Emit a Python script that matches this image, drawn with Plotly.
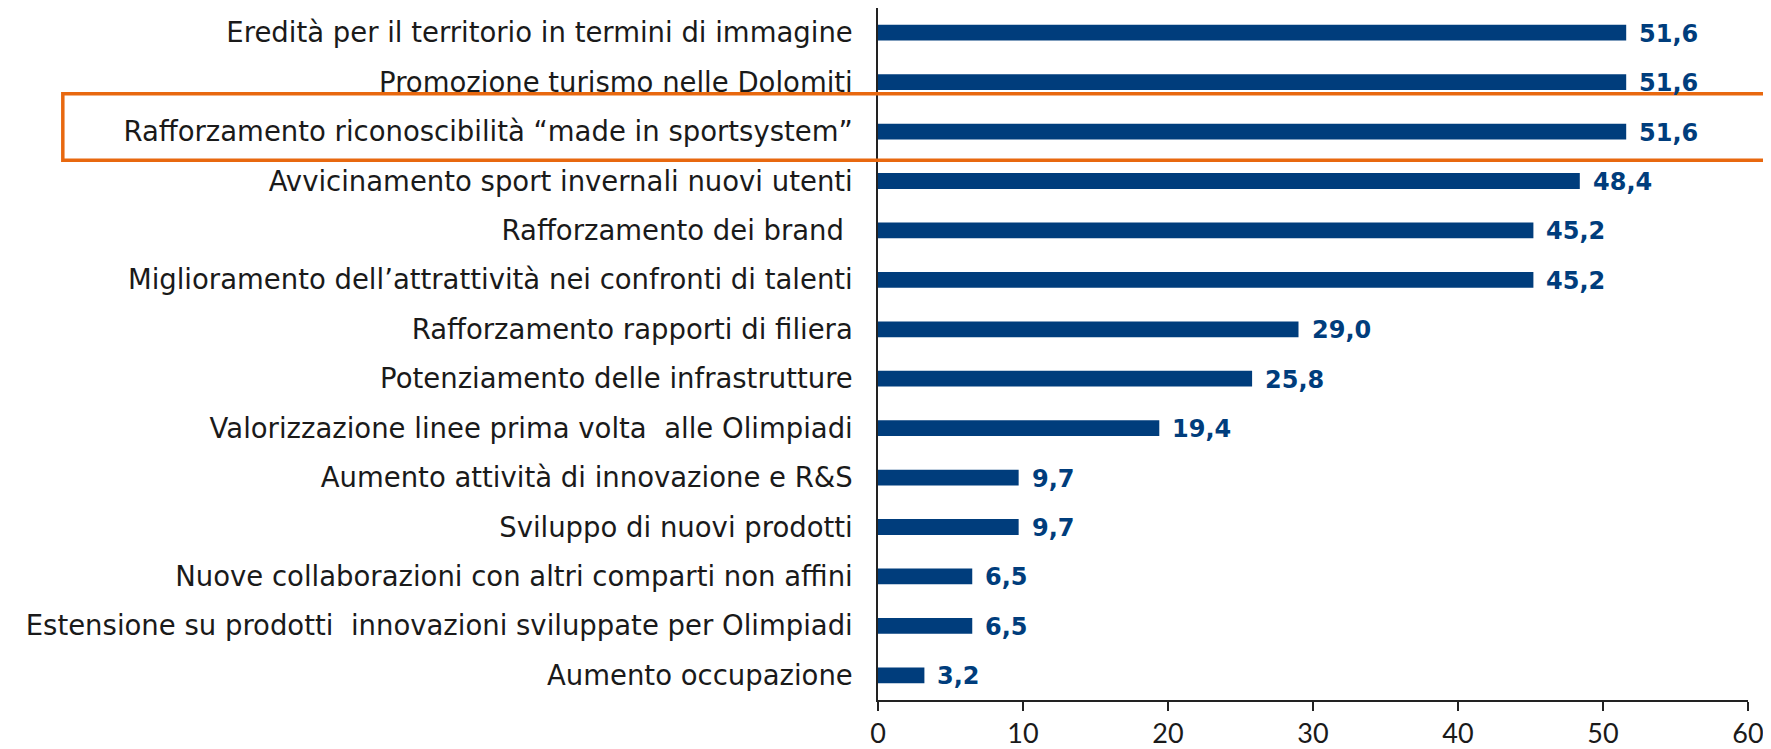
import plotly.graph_objects as go

categories = [
    "Eredità per il territorio in termini di immagine",
    "Promozione turismo nelle Dolomiti",
    "Rafforzamento riconoscibilità “made in sportsystem”",
    "Avvicinamento sport invernali nuovi utenti",
    "Rafforzamento dei brand ",
    "Miglioramento dell’attrattività nei confronti di talenti",
    "Rafforzamento rapporti di filiera",
    "Potenziamento delle infrastrutture",
    "Valorizzazione linee prima volta  alle Olimpiadi",
    "Aumento attività di innovazione e R&S",
    "Sviluppo di nuovi prodotti",
    "Nuove collaborazioni con altri comparti non affini",
    "Estensione su prodotti  innovazioni sviluppate per Olimpiadi",
    "Aumento occupazione",
]
values = [51.6, 51.6, 51.6, 48.4, 45.2, 45.2, 29.0, 25.8, 19.4, 9.7, 9.7, 6.5, 6.5, 3.2]
x_ticks = [0, 10, 20, 30, 40, 50, 60]
highlight = "Rafforzamento riconoscibilità “made in sportsystem”"

BLUE = "#003D7C"
LABEL_FONT = "DejaVu Sans"

fig = go.Figure()
fig.add_trace(go.Bar(
    x=values, y=categories, orientation="h",
    marker=dict(color=BLUE, line=dict(width=0)),
    hoverinfo="skip",
))

for c, v in zip(categories, values):
    fig.add_annotation(
        x=v, y=c, xref="x", yref="y",
        text=f"<b>{v:.1f}</b>".replace(".", ","),
        showarrow=False, xanchor="left", yanchor="middle", xshift=11, yshift=-1,
        font=dict(family=LABEL_FONT, size=24, color=BLUE),
    )

# highlight box around one category
idx = categories.index(highlight)
fig.add_shape(
    type="rect", xref="paper", yref="y",
    x0=-0.937, x1=1.05, y0=idx - 0.764, y1=idx + 0.58,
    line=dict(color="#E8680F", width=3.5), fillcolor="rgba(0,0,0,0)",
    layer="above",
)

fig.update_layout(
    width=1763, height=741,
    margin=dict(l=870, r=23, t=0, b=49),
    paper_bgcolor="white", plot_bgcolor="white",
    showlegend=False,
    bargap=0.68,
    font=dict(family=LABEL_FONT, color="#1A1A1A"),
)
fig.update_xaxes(
    range=[0, 60], tickvals=x_ticks, ticktext=[str(t) for t in x_ticks],
    showline=True, linecolor="#222", linewidth=1.5,
    ticks="outside", ticklen=9, tickwidth=1.5, tickcolor="#222",
    showgrid=False, zeroline=False, automargin=False,
    ticklabelstandoff=0,
    tickfont=dict(family="Lato", size=27, color="#1A1A1A"),
)
fig.update_yaxes(
    categoryorder="array", categoryarray=categories, autorange="reversed",
    showline=True, linecolor="#222", linewidth=1.5,
    ticks="", showgrid=False, zeroline=False, automargin=False,
    ticklabelstandoff=18,
    tickfont=dict(family=LABEL_FONT, size=27.5, color="#1A1A1A"),
)

fig.write_html("out.html")
